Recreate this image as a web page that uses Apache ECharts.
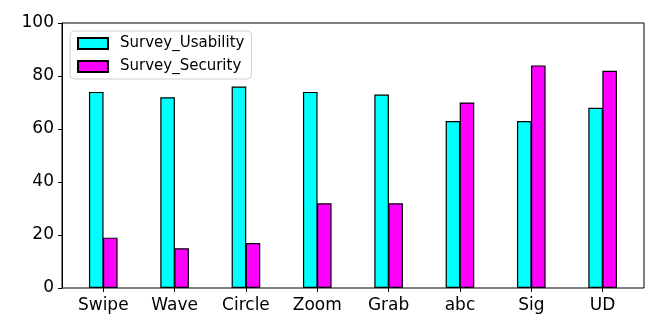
<!DOCTYPE html>
<html lang="en">
<head>
    <meta charset="UTF-8">
    <title>Survey</title>
    <script src="https://cdn.jsdelivr.net/npm/echarts@6/dist/echarts.min.js"></script>
    <style>
      html, body { margin: 0; padding: 0; background: #fff; }
      #main { width: 664px; height: 332px; }
    </style>
</head>
<body>
    <div id="main"></div>
    <script type="text/javascript">
      // data
      var categories = ['Swipe', 'Wave', 'Circle', 'Zoom', 'Grab', 'abc', 'Sig', 'UD'];
      var usability = [74, 72, 76, 74, 73, 63, 63, 68];
      var security = [19, 15, 17, 32, 32, 70, 84, 82];
      var yTicks = [0, 20, 40, 60, 80, 100];

      var myChart = echarts.init(document.getElementById('main'));
      var font = 'DejaVu Sans';

      var option = {
        animation: false,
        textStyle: { fontFamily: font },
        grid: [
          // frame
          { left: 62, top: 23, width: 582, height: 265, show: true, borderColor: '#000', borderWidth: 1 },
          // bars
          { left: 67.6, top: 23, width: 570.7, height: 265 }
        ],
        legend: {
          orient: 'vertical',
          left: 70, top: 31,
          backgroundColor: 'rgba(255,255,255,0.8)',
          borderColor: '#d0d0d0', borderWidth: 1, borderRadius: 4,
          padding: [5, 7, 5, 7],
          itemWidth: 30, itemHeight: 11, itemGap: 8,
          icon: 'rect',
          textStyle: { fontSize: 15, color: '#000', fontFamily: font, padding: [0, 0, 0, 7] },
          data: ['Survey_Usability', 'Survey_Security']
        },
        xAxis: [
          { gridIndex: 0, type: 'value', min: 0, max: 1, show: false },
          {
            gridIndex: 1, type: 'category', data: categories,
            axisLine: { show: false },
            axisTick: { show: true, alignWithLabel: true, length: 4, lineStyle: { color: '#000' } },
            axisLabel: { fontSize: 17, color: '#000', margin: 9, fontFamily: font }
          }
        ],
        yAxis: [
          {
            gridIndex: 0, type: 'value', min: 0, max: 100, interval: 20,
            axisLine: { show: true, lineStyle: { color: '#000' } },
            axisTick: { show: true, length: 4, lineStyle: { color: '#000' } },
            axisLabel: {
              fontSize: 17, color: '#000', margin: 8, fontFamily: font,
              formatter: function (v) { return yTicks.indexOf(v) >= 0 ? String(v) : ''; }
            },
            splitLine: { show: false }
          },
          { gridIndex: 1, type: 'value', min: 0, max: 100, show: false, splitLine: { show: false } }
        ],
        series: [
          {
            name: 'Survey_Usability', type: 'bar', xAxisIndex: 1, yAxisIndex: 1,
            barWidth: 14.6, barGap: '-4%',
            itemStyle: { color: '#00ffff', borderColor: '#000', borderWidth: 1.2 },
            data: usability
          },
          {
            name: 'Survey_Security', type: 'bar', xAxisIndex: 1, yAxisIndex: 1,
            barWidth: 14.6, barGap: '-4%',
            itemStyle: { color: '#ff00ff', borderColor: '#000', borderWidth: 1.2 },
            data: security
          }
        ]
      };
      myChart.setOption(option);
    </script>
</body>
</html>
